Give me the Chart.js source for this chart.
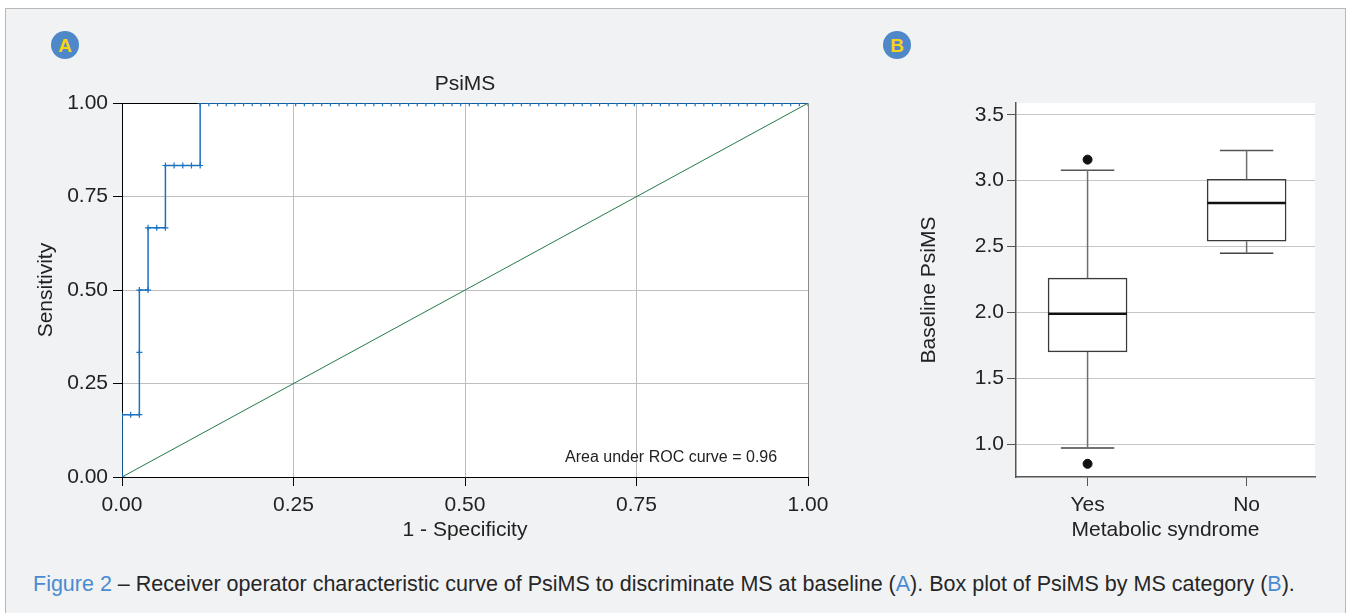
<!DOCTYPE html>
<html>
<head>
<meta charset="utf-8">
<script src="https://cdn.jsdelivr.net/npm/chart.js@4/dist/chart.umd.min.js"></script>
<style>
  body { margin: 0; width: 1350px; height: 613px; overflow: hidden; background: #fff; font-family: "Liberation Sans", Arial, sans-serif; }
  #panel { position: absolute; left: 5px; top: 8px; width: 1339px; height: 660px; border: 1px solid #b8b8b8; background: #f1f2f4; }
  .badge { position: absolute; width: 28px; height: 28px; border-radius: 50%; background: #4f88c8; color: #f8d215; font-weight: bold; font-size: 19px; line-height: 29px; text-align: center; }
  canvas { position: absolute; }
  #caption { position: absolute; left: 33px; top: 572px; font-size: 21.5px; color: #262626; white-space: nowrap; }
  #caption .hl { color: #4b8bd0; }
</style>
</head>
<body>
<div id="panel"></div>
<div class="badge" style="left:51px;top:31px">A</div>
<div class="badge" style="left:883px;top:31px">B</div>
<canvas id="roc" width="820" height="490" style="left:20px;top:60px"></canvas>
<canvas id="box" width="480" height="490" style="left:860px;top:60px"></canvas>
<div id="caption"><span class="hl">Figure 2</span> – Receiver operator characteristic curve of PsiMS to discriminate MS at baseline (<span class="hl">A</span>). Box plot of PsiMS by MS category (<span class="hl">B</span>).</div>

<script>
// ROC curve: cumulative false / true positives at each cut-off
const negatives = 79
const positives = 6
const falsePos = [0, 0, 1, 2, 2, 2, 3, 3, 4, 5, 5, 6, 7, 8, 9, 9,
  10, 11, 12, 13, 14, 15, 16, 17, 18, 19, 20, 21, 22, 23, 24, 25, 26, 27, 28, 29,
  30, 31, 32, 33, 34, 35, 36, 37, 38, 39, 40, 41, 42, 43, 44, 45, 46, 47, 48, 49,
  50, 51, 52, 53, 54, 55, 56, 57, 58, 59, 60, 61, 62, 63, 64, 65, 66, 67, 68, 69,
  70, 71, 72, 73, 74, 75, 76, 77, 78, 79]
const truePos = [0, 1, 1, 1, 2, 3, 3, 4, 4, 4, 5, 5, 5, 5, 5, 6,
  6, 6, 6, 6, 6, 6, 6, 6, 6, 6, 6, 6, 6, 6, 6, 6, 6, 6, 6, 6,
  6, 6, 6, 6, 6, 6, 6, 6, 6, 6, 6, 6, 6, 6, 6, 6, 6, 6, 6, 6,
  6, 6, 6, 6, 6, 6, 6, 6, 6, 6, 6, 6, 6, 6, 6, 6, 6, 6, 6, 6,
  6, 6, 6, 6, 6, 6, 6, 6, 6, 6]
const aucValue = 0.96
const rocTicks = [0, 0.25, 0.5, 0.75, 1]

// Box plot of baseline PsiMS by metabolic syndrome
const groups = ["Yes", "No"]
const lowerWhisker = [0.97, 2.45]
const q1 = [1.70, 2.54]
const median = [1.99, 2.83]
const q3 = [2.26, 3.01]
const upperWhisker = [3.08, 3.23]
const outlierGroup = ["Yes", "Yes"]
const outlierValue = [3.16, 0.85]

const fontFamily = '"Liberation Sans", Arial, sans-serif'
const textColor = "#222"
const labelSize = 21
Chart.defaults.font.family = fontFamily

const plotBackground = {
  id: "plotBackground",
  beforeDraw(chart) {
    const { ctx, chartArea: a } = chart
    ctx.save()
    ctx.fillStyle = "#fff"
    ctx.fillRect(a.left, a.top, a.right - a.left, a.bottom - a.top)
    ctx.restore()
  }
}

const aucLabel = {
  id: "aucLabel",
  afterDatasetsDraw(chart) {
    const { ctx, scales: { x, y } } = chart
    ctx.save()
    ctx.font = `16px ${fontFamily}`
    ctx.fillStyle = textColor
    ctx.textAlign = "right"
    ctx.textBaseline = "middle"
    ctx.fillText(`Area under ROC curve = ${aucValue.toFixed(2)}`, x.getPixelForValue(0.955), y.getPixelForValue(0.053))
    ctx.restore()
  }
}

const rocPoints = falsePos.map((fp, i) => ({ x: fp / negatives, y: truePos[i] / positives }))

new Chart(document.getElementById("roc"), {
  type: "scatter",
  data: {
    datasets: [
      {
        label: "PsiMS",
        data: rocPoints,
        showLine: true,
        borderColor: "#1a72c2",
        borderWidth: 1.5,
        pointStyle: "cross",
        pointRadius: 3,
        pointBorderWidth: 1.2,
        pointBorderColor: "#1a72c2",
        order: 0
      },
      {
        label: "Reference",
        data: [{ x: 0, y: 0 }, { x: 1, y: 1 }],
        showLine: true,
        borderColor: "#247a47",
        borderWidth: 1,
        pointRadius: 0,
        order: 1
      }
    ]
  },
  options: {
    responsive: false,
    animation: false,
    layout: { padding: { right: 32 } },
    plugins: {
      legend: { display: false },
      tooltip: { enabled: false },
      title: {
        display: true, text: "PsiMS", fullSize: false, color: textColor,
        font: { size: labelSize, weight: "normal" }, padding: { top: 12, bottom: 6 }
      }
    },
    scales: {
      x: {
        type: "linear", min: 0, max: 1,
        afterBuildTicks: s => { s.ticks = rocTicks.map(v => ({ value: v })) },
        afterFit: s => { s.height = 73 },
        ticks: { callback: v => v.toFixed(2), color: textColor, font: { size: labelSize }, padding: 7, maxRotation: 0 },
        grid: { color: c => c.tick && c.tick.value === 1 ? "#8a8a8a" : "#bdbdbd", tickColor: "#000", tickLength: 9 },
        border: { color: "#000" },
        title: { display: true, text: "1 - Specificity", color: textColor, font: { size: labelSize }, padding: { bottom: 7 } }
      },
      y: {
        type: "linear", min: 0, max: 1,
        afterBuildTicks: s => { s.ticks = rocTicks.map(v => ({ value: v })) },
        afterFit: s => { s.width = 102 },
        ticks: { callback: v => v.toFixed(2), color: textColor, font: { size: labelSize }, padding: 5 },
        grid: { color: c => c.tick && c.tick.value === 1 ? "#000" : "#bdbdbd", tickColor: "#000", tickLength: 9 },
        border: { color: "#000" },
        title: { display: true, text: "Sensitivity", color: textColor, font: { size: labelSize }, padding: { top: 14 } }
      }
    }
  },
  plugins: [plotBackground, aucLabel]
})

// box plot parts, built from the summary arrays
// (higher order is drawn first, so the box sits under whiskers and medians)
const capHalf = 0.168
const medianHalf = 0.247
const boxDatasets = []
groups.forEach((g, i) => {
  const x = i + 1
  const whisker = { type: "line", borderColor: "#6e6e6e", borderWidth: 1.5, pointRadius: 0, order: 2 }
  boxDatasets.push({ ...whisker, data: [{ x, y: q3[i] }, { x, y: upperWhisker[i] }] })
  boxDatasets.push({ ...whisker, data: [{ x, y: q1[i] }, { x, y: lowerWhisker[i] }] })
  boxDatasets.push({ ...whisker, borderColor: "#555", data: [{ x: x - capHalf, y: upperWhisker[i] }, { x: x + capHalf, y: upperWhisker[i] }] })
  boxDatasets.push({ ...whisker, borderColor: "#444", data: [{ x: x - capHalf, y: lowerWhisker[i] }, { x: x + capHalf, y: lowerWhisker[i] }] })
})
boxDatasets.push({
  type: "bar",
  data: groups.map((g, i) => ({ x: i + 1, y: [q1[i], q3[i]] })),
  backgroundColor: "#fff",
  borderColor: "#3a3a3a",
  borderWidth: 1.5,
  borderSkipped: false,
  barThickness: 79,
  order: 3
})
groups.forEach((g, i) => {
  boxDatasets.push({
    type: "line", borderColor: "#111", borderWidth: 2.5, pointRadius: 0, order: 1,
    data: [{ x: i + 1 - medianHalf, y: median[i] }, { x: i + 1 + medianHalf, y: median[i] }]
  })
})
boxDatasets.push({
  type: "scatter",
  data: outlierValue.map((v, i) => ({ x: groups.indexOf(outlierGroup[i]) + 1, y: v })),
  pointRadius: 4.5,
  backgroundColor: "#111",
  borderColor: "#111",
  order: 0
})

new Chart(document.getElementById("box"), {
  type: "bar",
  data: { datasets: boxDatasets },
  options: {
    responsive: false,
    animation: false,
    layout: { padding: { top: 43, right: 25 } },
    plugins: { legend: { display: false }, tooltip: { enabled: false } },
    scales: {
      x: {
        type: "linear", min: 0.55, max: 2.43, offset: false,
        afterBuildTicks: s => { s.ticks = groups.map((g, i) => ({ value: i + 1 })) },
        afterFit: s => { s.height = 73 },
        ticks: { callback: v => groups[v - 1], color: textColor, font: { size: labelSize }, padding: 7, maxRotation: 0 },
        grid: { offset: false, drawOnChartArea: false, tickColor: "#555", tickLength: 9 },
        border: { color: "#555", width: 1.5 },
        title: { display: true, text: "Metabolic syndrome", color: textColor, font: { size: labelSize }, padding: { bottom: 7 } }
      },
      y: {
        type: "linear", min: 0.75, max: 3.59,
        ticks: { stepSize: 0.5, includeBounds: false, callback: v => v.toFixed(1), color: textColor, font: { size: labelSize }, padding: 3 },
        afterFit: s => { s.width = 156 },
        grid: { color: "#c6c6c6", tickColor: "#555", tickLength: 9 },
        border: { color: "#555", width: 1.5 },
        title: { display: true, text: "Baseline PsiMS", color: textColor, font: { size: labelSize }, padding: { top: 57 } }
      }
    }
  },
  plugins: [plotBackground]
})
</script>
</body>
</html>
